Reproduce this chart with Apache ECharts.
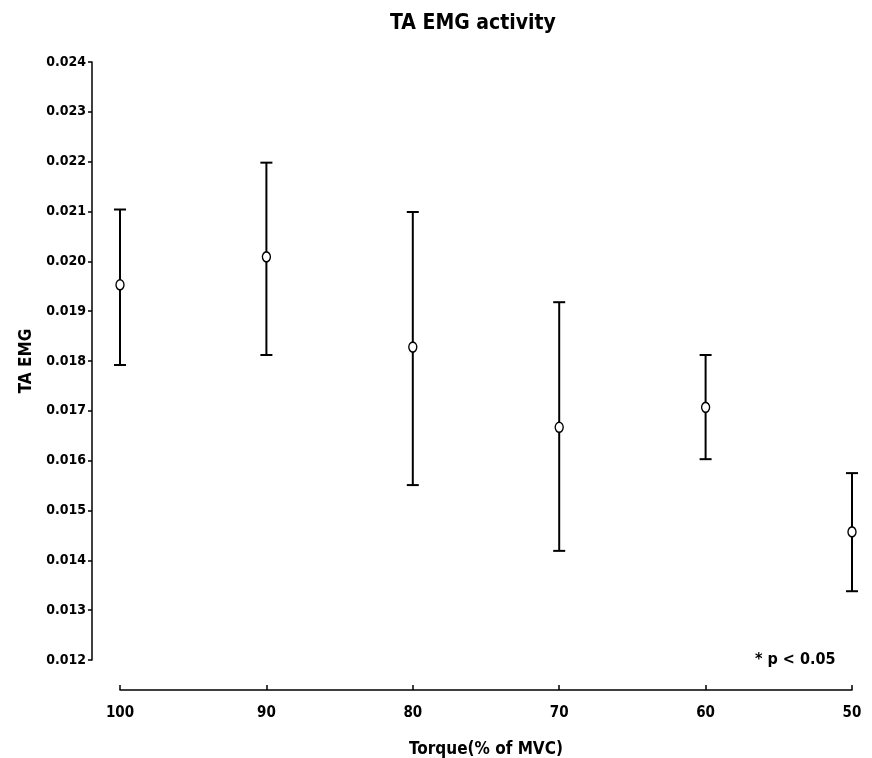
<!DOCTYPE html>
<html>
<head>
<meta charset="UTF-8">
<title>TA EMG activity</title>
<script src="https://cdn.jsdelivr.net/npm/echarts@6/dist/echarts.min.js"></script>
<style>
  html, body { margin: 0; padding: 0; background: #fff; }
</style>
</head>
<body>
<div id="main" style="width:872px;height:758px"></div>
<script type="text/javascript">
  // torque levels (% of MVC)
  var torque = ['100', '90', '80', '70', '60', '50'];
  // mean TA EMG and error bar ends
  var emgMean = [0.01953, 0.02009, 0.01828, 0.01667, 0.01707, 0.01457];
  var emgHigh = [0.02104, 0.02198, 0.02099, 0.01918, 0.01812, 0.01575];
  var emgLow  = [0.01792, 0.01812, 0.01551, 0.01419, 0.01603, 0.01338];
  var yTicks = [0.012, 0.013, 0.014, 0.015, 0.016, 0.017, 0.018, 0.019, 0.020, 0.021, 0.022, 0.023, 0.024];

  var font = '"Liberation Sans Narrow", "DejaVu Sans Condensed", "Liberation Sans", sans-serif';

  var barData = [];
  for (var i = 0; i < torque.length; i++) {
    barData.push([i, emgLow[i], emgHigh[i]]);
  }

  var myChart = echarts.init(document.getElementById('main'));

  var option = {
    backgroundColor: '#fff',
    animation: false,
    title: {
      text: 'TA EMG activity',
      left: 468,
      top: 8,
      textAlign: 'center',
      textStyle: { fontFamily: font, fontSize: 21, fontWeight: 'bold', color: '#000' }
    },
    grid: { left: 120, right: 20, top: 62, bottom: 98, outerBoundsMode: 'none', containLabel: false },
    xAxis: {
      type: 'category',
      data: torque,
      boundaryGap: false,
      offset: 30,
      name: 'Torque(% of MVC)',
      nameLocation: 'middle',
      nameGap: 51,
      nameTextStyle: { fontFamily: font, fontSize: 17, fontWeight: 'bold', color: '#000' },
      axisLine: { lineStyle: { color: '#000', width: 1.5 } },
      axisTick: { inside: true, length: 5, lineStyle: { color: '#000', width: 1.5 } },
      axisLabel: { fontFamily: font, fontSize: 15, fontWeight: 'bold', color: '#000', margin: 16 },
      splitLine: { show: false }
    },
    yAxis: {
      type: 'value',
      min: 0.012,
      max: 0.024,
      interval: 0.001,
      offset: 28,
      name: 'TA EMG',
      nameLocation: 'middle',
      nameRotate: 90,
      nameGap: 55,
      nameTextStyle: { fontFamily: font, fontSize: 17, fontWeight: 'bold', color: '#000' },
      axisLine: { show: true, lineStyle: { color: '#000', width: 1.5 } },
      axisTick: { show: true, length: 4, lineStyle: { color: '#000', width: 1.5 } },
      axisLabel: {
        fontFamily: font, fontSize: 14, fontWeight: 'bold', color: '#000', margin: 6,
        formatter: function (v) { return v.toFixed(3); }
      },
      splitLine: { show: false }
    },
    graphic: [{
      type: 'text',
      left: 755,
      top: 652,
      style: { text: '* p < 0.05', font: 'bold 16px ' + font, fill: '#000' }
    }],
    series: [
      {
        type: 'custom',
        data: barData,
        renderItem: function (params, api) {
          var x = api.value(0);
          var lo = api.coord([x, api.value(1)]);
          var hi = api.coord([x, api.value(2)]);
          var w = 6;
          var st = { stroke: '#000', lineWidth: 2 };
          return {
            type: 'group',
            children: [
              { type: 'line', shape: { x1: hi[0], y1: hi[1], x2: lo[0], y2: lo[1] }, style: st },
              { type: 'line', shape: { x1: hi[0] - w, y1: hi[1], x2: hi[0] + w, y2: hi[1] }, style: st },
              { type: 'line', shape: { x1: lo[0] - w, y1: lo[1], x2: lo[0] + w, y2: lo[1] }, style: st }
            ]
          };
        },
        z: 2
      },
      {
        type: 'scatter',
        data: emgMean,
        symbol: 'circle',
        symbolSize: [8, 10],
        itemStyle: { color: '#fff', borderColor: '#000', borderWidth: 1.5, opacity: 1 },
        z: 3
      }
    ]
  };

  myChart.setOption(option);
</script>
</body>
</html>
